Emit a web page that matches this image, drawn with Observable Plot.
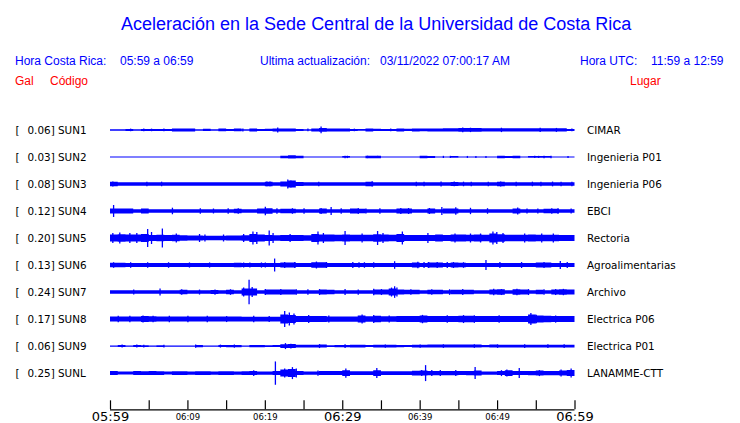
<!DOCTYPE html>
<html>
<head>
<meta charset="utf-8">
<script src="https://cdn.jsdelivr.net/npm/d3@7"></script>
<script src="https://cdn.jsdelivr.net/npm/@observablehq/plot@0.6"></script>
<style>
  html, body { margin: 0; padding: 0; background: #fff; }
  #wrap { width: 740px; height: 423px; position: relative; overflow: hidden; }
  #head { position: relative; width: 740px; height: 100px; font-family: "Liberation Sans", Arial, sans-serif; }
  #head div { position: absolute; white-space: pre; }
  .t { font-size: 18px; line-height: 18px; color: #0000ff; }
  .b { font-size: 12px; line-height: 12px; color: #0000ff; }
  .r { font-size: 12px; line-height: 12px; color: #ff0000; }
  #chart svg { display: block; }
</style>
</head>
<body>
<div id="wrap">
  <div id="head"></div>
  <div id="chart"></div>
</div>
<script>
// ---------- text content ----------
const title = "Aceleración en la Sede Central de la Universidad de Costa Rica";
const headerTexts = [
  ["Hora Costa Rica:", "05:59 a 06:59"],
  ["Ultima actualización:", "03/11/2022 07:00:17 AM"],
  ["Hora UTC:", "11:59 a 12:59"]
];
const colLabels = ["Gal", "Código", "Lugar"];

// ---------- station data ----------
const codes = ["SUN1","SUN2","SUN3","SUN4","SUN5","SUN6","SUN7","SUN8","SUN9","SUNL"];
const gal = [0.06, 0.03, 0.08, 0.12, 0.20, 0.13, 0.24, 0.17, 0.06, 0.25];
const places = ["CIMAR","Ingenieria P01","Ingenieria P06","EBCI","Rectoria","Agroalimentarias","Archivo","Electrica P06","Electrica P01","LANAMME-CTT"];

// time axis (minutes after 05:59)
const tickMinutes = [0,5,10,15,20,25,30,35,40,45,50,55,60];
const labelMinutes = [0,10,20,30,40,50,60];
const tickLabels = ["05:59","06:09","06:19","06:29","06:39","06:49","06:59"];
const majorLabels = ["05:59","06:29","06:59"];

// envelope half-amplitude per minute, one array per station
const env1 = [.75,.75,1,.75,1,1,1,1,1.5,1.5,1.5,.75,1.2,.75,1.3,1,1.3,.75,1.5,1,1.2,1.5,1.5,1.5,1,.75,1.5,1.8,1.5,1.5,1.5,1,.9,1.5,1.2,1,1,1.5,1.2,1.5,1.3,1.5,1.5,1.6,1.6,1.8,1.8,1.8,1.7,1.7,1.7,1.7,1.7,1.7,1.7,1.7,1.7,1.7,1.7,1];
const env2 = [.5,.5,.5,.5,.5,.5,.5,.5,.5,.5,.5,.5,.5,.5,.5,.5,.5,.5,.5,.5,.5,.5,1.3,1.6,1.3,.5,.5,.5,.5,.5,.9,.5,.5,1.2,1.2,.5,.5,.5,.5,.5,1.2,1,.5,.5,.9,.5,.5,.5,.5,.5,1.3,1,1.2,.5,.9,.9,.9,.5,.5,.5];
const env3 = [2.2,1.7,1.7,1.7,1.7,1.7,1.7,1.7,1.7,1.7,1.7,1.7,1.7,1.7,1.7,1.7,1.7,1.7,1.7,1.7,2.2,1.7,2.5,3.5,2,1.7,1.7,1.7,1.7,1.7,1.7,1.7,1.7,2.2,1.7,1.7,1.7,1.7,1.7,1.7,1.7,1.7,1.7,1.7,2,1.7,1.7,1.7,1.7,1.7,2.2,1.7,1.7,1.7,1.7,1.7,1.7,1.7,1.7,1.7];
const env4 = [2.5,2.5,2.5,1.7,2.5,1.7,1.7,1.7,1.7,1.7,1.7,1.7,1.7,1.7,1.7,1.7,2.3,1.7,1.7,2.5,2.8,1.7,2.2,2.2,1.7,1.7,1.7,2.5,1.7,1.7,1.7,2.5,2.3,1.7,1.7,1.7,1.7,2.5,2.5,1.7,1.7,2.5,1.7,2.5,2.5,1.7,1.7,1.7,1.7,1.7,1.7,1.7,2.5,1.7,1.7,1.7,2.3,2.3,1.7,1.7];
const env5 = [3.5,3.8,3.5,3.5,4,3,3.3,3,3.2,2.8,2.6,2.5,2.3,2.3,2.3,2.5,2.5,2.8,4,3.5,3,2.8,3,3,3,2.8,4,3.5,3.5,3.2,3.5,3.3,3.3,3.3,3.8,3.5,3.3,4,3,3,3,3,3.5,3,3.5,3.5,3.3,3.5,3.3,4.5,3.8,3.3,3.3,3.3,3.5,3.3,3.3,3.3,3,3];
const env6 = [2.3,2.2,2,2,2,2,2,2,2,2,2,2,2,2,2,2,2.3,2,2,2,2,2,2.5,2.5,2,2,2.8,2.8,2,2,2,2,2,2,2,2,2,2,2,2.5,2,2.5,2.5,2,2.5,2.3,2,2,2,2,2,2,2,2,2,2.5,2.5,2,2,2];
const env7 = [1.7,1.7,1.7,1.7,1.7,1.7,1.7,1.7,1.7,2.3,1.7,1.7,1.7,2,1.7,2.3,1.7,3.5,3.5,1.7,2.5,2.5,2.5,2.5,1.7,1.7,1.7,2.5,2.3,1.7,1.7,1.7,1.7,1.7,2.5,2.5,3.5,2.5,2.3,2.2,1.7,2.3,2.3,1.7,2.3,2.3,2.3,1.7,1.7,2.5,2.8,1.7,2.8,2.5,1.7,2.3,1.7,2.5,2.7,2.5];
const env8 = [2.5,2.5,2.5,2.5,3,2.8,2.5,2.5,2.5,2.5,2.5,2.5,2.5,2.5,2.5,2.5,2.5,2.4,2.4,2.4,2.4,2.4,4.5,4,3,3,3,3,2.6,2.6,2.6,2.6,3.5,2.8,3.2,2.8,2.8,3,3,3,3.5,3,3,3,3,3.3,3.3,3,3,3,3,3,3,3,4.5,3.5,3.3,3,3,3];
const env9 = [.7,1,.7,1,.9,.7,.9,.7,.7,.7,.7,1.1,.7,.7,1,1.2,1.1,.7,1.2,1.2,.9,1,1.8,2,1.3,1.3,1.3,1.5,.9,1.2,1.2,1.3,1.3,1,1.3,1.3,1.3,1.2,1,1.3,1.3,1.5,1.5,1.5,1.5,1.5,1.5,1.5,1.2,1.5,1.4,1.4,1.4,1.4,1.4,1.4,1.4,1.4,1.4,1.4];
const envL = [2,1.5,1.5,2,1.8,2,1.8,1.5,1.8,1.8,1.7,1.8,1.8,1.7,1.8,1.8,1.7,1.8,2,1.7,1.7,2,3.5,4,2,1.7,1.7,2,2,2,2.8,1.9,1.9,1.9,2.8,1.9,1.9,1.9,1.9,2.3,2.5,2.2,2.2,2.2,2.2,2,2.2,2.5,1.7,1.7,2,2.8,2,2,2.2,2.5,2.2,2.2,2.5,3];
const envelopes = [env1, env2, env3, env4, env5, env6, env7, env8, env9, envL];

// spikes: [minute, half-amplitude]
const spikes1 = [[2.6,1.3],[4.3,1.3],[5.3,1.3],[6.9,1.3],[17.1,1.5],[21.6,2.5],[25.5,1.3],[27.2,3.3],[31.5,1.3],[36.2,1.4],[45.5,2.3],[46.5,2.2],[50.5,2.2],[55.5,2.2],[57.6,2.0],[59.6,1.3]];
const spikes2 = [[30.3,1.2],[30.6,1.2],[33.2,1.2],[34.5,1.1],[43,1.1],[43.9,1.1],[46.1,1],[47.2,1],[48.5,1],[52.8,1],[54.8,1.1],[55.3,1.1],[56,1.2],[56.9,1.2],[59.1,1]];
const spikes3 = [[0.3,2.5],[4.7,2.3],[6.6,2.3],[20.2,2.4],[20.6,2.4],[22.9,4.5],[23.3,3.5],[26.9,2.3],[33.8,2.6],[39.5,2.2],[40.5,2.2],[42.7,2.5],[44.4,2.4],[45.6,2.3],[46.6,2.2],[48.8,2.2],[50.4,2.5],[52.4,2.2],[54.5,2.3],[55.6,2.2],[57.1,2.4],[58.2,2.2],[59.6,2.3]];
const spikes4 = [[0.4,6],[8,3.3],[11.6,2.8],[13.3,2.5],[15.2,2.8],[16.5,2.8],[20,4.3],[21.5,2.8],[23.5,2.8],[25,2.8],[27.2,3],[28.5,4],[29.8,2.8],[32,3],[33,2.6],[34.8,2.8],[37.5,3],[38.5,3],[41.2,3],[42.8,4],[44.6,3.8],[46.5,3.2],[48.7,2.8],[52.6,3.5],[53.8,2.6],[55.2,2.6],[57,2.8],[57.8,2.8],[59.5,2.6]];
const spikes5 = [[0.3,5],[1.2,5.5],[2.5,5],[3.4,5],[4.8,9],[5.3,6],[6.7,9.5],[8.5,4.5],[11.5,4],[12.2,3.5],[14.6,3.5],[17.2,4],[18.4,6.5],[18.9,6],[20.5,7.5],[21,5],[23.2,4],[26.8,6.5],[27.5,5],[30.3,7],[32.5,4.5],[34.5,7],[35.2,5],[37.7,6.5],[41,5],[44.5,4.5],[46.5,4.5],[47.8,4.5],[49.4,6.5],[49.9,6],[50.7,5],[53.5,4.5],[55.7,4.5],[57.2,4.5]];
const spikes6 = [[0.4,2.8],[2.6,2.8],[4.8,2.8],[7.5,2.8],[10.2,2.6],[12.8,2.6],[17.2,2.6],[18,2.6],[19.5,2.6],[20,2.6],[21.2,6.5],[22.5,3],[23.8,3],[26.6,3.5],[27.9,3],[31.3,3],[32.1,2.8],[32.8,2.8],[34,2.8],[36.7,3.8],[39.7,3.2],[40.5,3],[41.1,3],[42.2,3],[43.5,3],[44.3,3],[45.6,2.8],[48.5,5],[50.3,3],[53.1,3],[56,3],[58.1,4],[59,3]];
const spikes7 = [[3,2.5],[6.4,3.5],[9.2,2.8],[11.5,2.5],[13.5,2.6],[15.5,2.8],[17.2,4.5],[17.9,12.3],[18.3,5],[20,3],[22,3],[24,2.8],[25.5,2.8],[27,3],[30.3,3],[32,2.6],[34,3.2],[35,3],[36.3,4.5],[36.7,5.8],[37,4.5],[38.8,2.8],[41.5,2.8],[43.8,2.8],[45.5,3],[49.5,3.2],[50.5,3],[52.5,3.2],[54,3],[56,2.8],[57.5,3],[58.5,3.2]];
const spikes8 = [[1,3.2],[2.5,3.2],[4.2,3.5],[5.5,3.2],[7.6,3.3],[10,3.2],[12.5,3.2],[15,3],[18.5,3.2],[20.5,3],[22.5,8],[23.1,6.5],[23.7,5.5],[25.6,4],[28.2,3.5],[32.5,4.5],[34,4],[36,3.5],[40.3,4.2],[43.5,3.8],[45.6,4],[47,3.8],[50.2,3.8],[54.3,6],[55,4.2],[57.5,3.6]];
const spikes9 = [[1.5,1.5],[3.4,1.5],[4.3,1.3],[6.9,1.4],[11,1.6],[14.2,1.5],[16,1.6],[22.6,3],[23.3,2.3],[27,2],[30.3,1.8],[35.5,1.7],[40,1.7],[43,1.8],[47,1.8],[50,1.8],[53.5,1.9],[56.5,1.8],[58.6,1.8]];
const spikesL = [[18.5,2.8],[21.3,11.7],[22.5,4.5],[23.5,6],[24,4.5],[26.8,2.6],[30.4,4.7],[34.4,5],[40.2,3],[40.7,8],[41.5,3],[42.6,3],[44.6,3],[47.1,6],[50.5,3],[51.2,3.5],[52.8,5],[55.4,3],[58.2,3.5],[59.5,4.5]];
const spikeSets = [spikes1, spikes2, spikes3, spikes4, spikes5, spikes6, spikes7, spikes8, spikes9, spikesL];

// ---------- build tables ----------
const SEP = 27.1;          // amplitude units between station baselines
const AXIS = -(9 * SEP + 36.3);
const stations = codes.map((c, i) => ({
  i, code: c, off: -i * SEP,
  galText: gal[i].toFixed(2) + "] " + c,
  place: places[i]
}));
const envRows = [];
envelopes.forEach((env, i) => {
  const off = -i * SEP;
  env.forEach((a, m) => envRows.push({st: i, t: m, lo: off - a, hi: off + a}));
  envRows.push({st: i, t: 60, lo: off - env[59], hi: off + env[59]});
});
const spikeRows = [];
spikeSets.forEach((set, i) => {
  const off = -i * SEP;
  set.forEach(([t, a]) => spikeRows.push({st: i, t, lo: off - a, hi: off + a}));
});
const labelRows = labelMinutes.map((m, k) => ({t: m, text: tickLabels[k], major: majorLabels.includes(tickLabels[k])}));

// ---------- header ----------
const head = document.getElementById("head");
function addDiv(cls, text, left, top) {
  const d = document.createElement("div");
  d.className = cls; d.textContent = text;
  d.style.left = left + "px"; d.style.top = top + "px";
  head.appendChild(d);
}
addDiv("t", title, 121, 14.5);
addDiv("b", headerTexts[0][0], 15, 55);
addDiv("b", headerTexts[0][1], 120, 55);
addDiv("b", headerTexts[1][0], 260, 55);
addDiv("b", headerTexts[1][1], 380, 55);
addDiv("b", headerTexts[2][0], 580, 55);
addDiv("b", headerTexts[2][1], 651, 55);
addDiv("r", colLabels[0], 15, 75);
addDiv("r", colLabels[1], 50, 75);
addDiv("r", colLabels[2], 630, 75);

// ---------- chart ----------
const BLUE = "#0000ff";
const LF = 10.4;
const chart = Plot.plot({
  width: 740,
  height: 323,
  marginLeft: 110,
  marginRight: 165.5,
  marginTop: 0,
  marginBottom: 13.7,
  x: {domain: [0, 60], axis: null},
  y: {domain: [AXIS, 30], axis: null},
  style: {background: "transparent"},
  marks: [
    Plot.areaY(envRows, {x: "t", y1: "lo", y2: "hi", z: "st", fill: BLUE, curve: "step-after"}),
    Plot.ruleX(spikeRows, {x: "t", y1: "lo", y2: "hi", stroke: BLUE, strokeWidth: 1.3}),
    Plot.text(stations, {y: "off", text: () => "[", frameAnchor: "left", dx: -95, textAnchor: "start", lineAnchor: "middle", fontSize: LF, fontFamily: "DejaVu Sans", fill: "#000"}),
    Plot.text(stations, {y: "off", text: "galText", frameAnchor: "left", dx: -83, textAnchor: "start", lineAnchor: "middle", fontSize: LF, fontFamily: "DejaVu Sans", fill: "#000"}),
    Plot.text(stations, {y: "off", text: "place", frameAnchor: "right", dx: 12, textAnchor: "start", lineAnchor: "middle", fontSize: LF, fontFamily: "DejaVu Sans", fill: "#000"}),
    Plot.ruleY([AXIS], {x1: 0, x2: 60, stroke: "#000", strokeWidth: 1.2}),
    Plot.ruleX(tickMinutes, {x: d => d, y1: AXIS, y2: AXIS + 9, stroke: "#000", strokeWidth: 1.2}),
    Plot.text(labelRows.filter(d => d.major), {x: "t", y: () => AXIS, text: "text", dy: 11, lineAnchor: "bottom", fontSize: 13, fontFamily: "DejaVu Sans", fill: "#000", style: "letter-spacing: 0.6px"}),
    Plot.text(labelRows.filter(d => !d.major), {x: "t", y: () => AXIS, text: "text", dy: 10, lineAnchor: "bottom", fontSize: 8.5, fontFamily: "DejaVu Sans", fill: "#000"})
  ]
});
document.getElementById("chart").appendChild(chart);
</script>
</body>
</html>
